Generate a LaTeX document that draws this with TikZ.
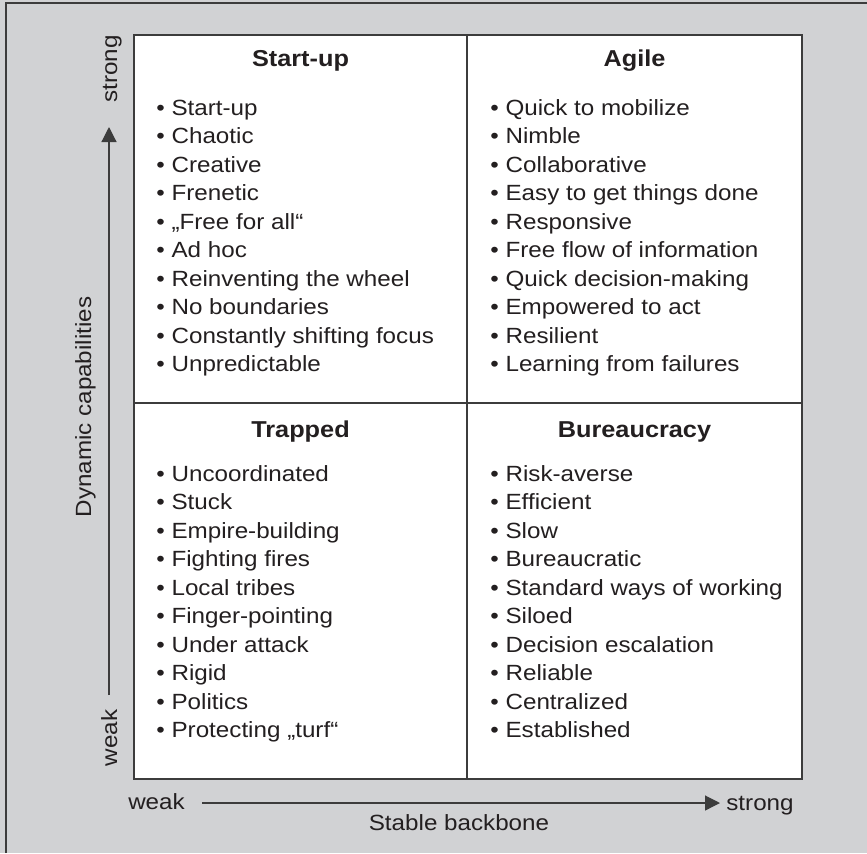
\documentclass[tikz,border=0pt]{standalone}
\usepackage{fontspec}
\setmainfont{Liberation Sans}[FakeStretch=1.1]
\usetikzlibrary{arrows.meta}
\definecolor{panelgray}{HTML}{D1D2D4}
\definecolor{inkgray}{HTML}{231F20}
\definecolor{rulegray}{HTML}{3C3C3C}
\tikzset{
  celltitle/.style={font=\fontsize{11.5}{13}\selectfont\bfseries, anchor=base, inner sep=0pt},
  bulletitem/.style={anchor=base west, inner sep=0pt},
  axislabel/.style={anchor=base, inner sep=0pt},
  axisarrow/.style={draw=rulegray, line width=0.6pt, -{Triangle[length=7.5pt,width=7.5pt]}},
}
\begin{document}
\begin{tikzpicture}[x=0.5pt,y=-0.5pt,text=inkgray,font=\fontsize{11}{13}\selectfont]
\useasboundingbox (0,0) rectangle (867,853);
\fill[panelgray] (0,0) rectangle (867,853);
\draw[rulegray,line width=1pt] (6,853) -- (6,3) -- (867,3);

\draw[rulegray,line width=0.75pt,fill=white] (134,35) rectangle (802,779);
\draw[rulegray,line width=0.75pt] (467,35) -- (467,779);
\draw[rulegray,line width=0.75pt] (134,403) -- (802,403);

\node[celltitle] (startup) at (300.5,66) {Start-up};
\node[celltitle] (agile) at (634.5,66) {Agile};
\node[celltitle] (trapped) at (300.5,437) {Trapped};
\node[celltitle] (bureau) at (634.5,437) {Bureaucracy};

\foreach \txt [count=\i] in {Start-up,Chaotic,Creative,Frenetic,„Free for all“,Ad hoc,Reinventing the wheel,No boundaries,Constantly shifting focus,Unpredictable}
  \node[bulletitem] (su\i) at (156,{115+28.5*(\i-1)}) {• \txt};
\foreach \txt [count=\i] in {Quick to mobilize,Nimble,Collaborative,Easy to get things done,Responsive,Free flow of information,Quick decision-making,Empowered to act,Resilient,Learning from failures}
  \node[bulletitem] (ag\i) at (490,{115+28.5*(\i-1)}) {• \txt};
\foreach \txt [count=\i] in {Uncoordinated,Stuck,Empire-building,Fighting fires,Local tribes,Finger-pointing,Under attack,Rigid,Politics,Protecting „turf“}
  \node[bulletitem] (tr\i) at (156,{481+28.5*(\i-1)}) {• \txt};
\foreach \txt [count=\i] in {Risk-averse,Efficient,Slow,Bureaucratic,Standard ways of working,Siloed,Decision escalation,Reliable,Centralized,Established}
  \node[bulletitem] (bu\i) at (490,{481+28.5*(\i-1)}) {• \txt};

\coordinate (ylow) at (109,695);
\coordinate (yhigh) at (109,127);
\draw[axisarrow] (ylow) -- (yhigh);
\node[axislabel,rotate=90] (ystrong) at (117,69) {strong};
\node[axislabel,rotate=90] (yweak) at (117,738) {weak};
\node[axislabel,rotate=90] (ytitle) at (91,407) {Dynamic capabilities};

\coordinate (xlow) at (202,803);
\coordinate (xhigh) at (720,803);
\draw[axisarrow] (xlow) -- (xhigh);
\node[axislabel] (xweak) at (156.5,809) {weak};
\node[axislabel] (xstrong) at (760,810) {strong};
\node[axislabel] (xtitle) at (459,830) {Stable backbone};
\end{tikzpicture}
\end{document}
